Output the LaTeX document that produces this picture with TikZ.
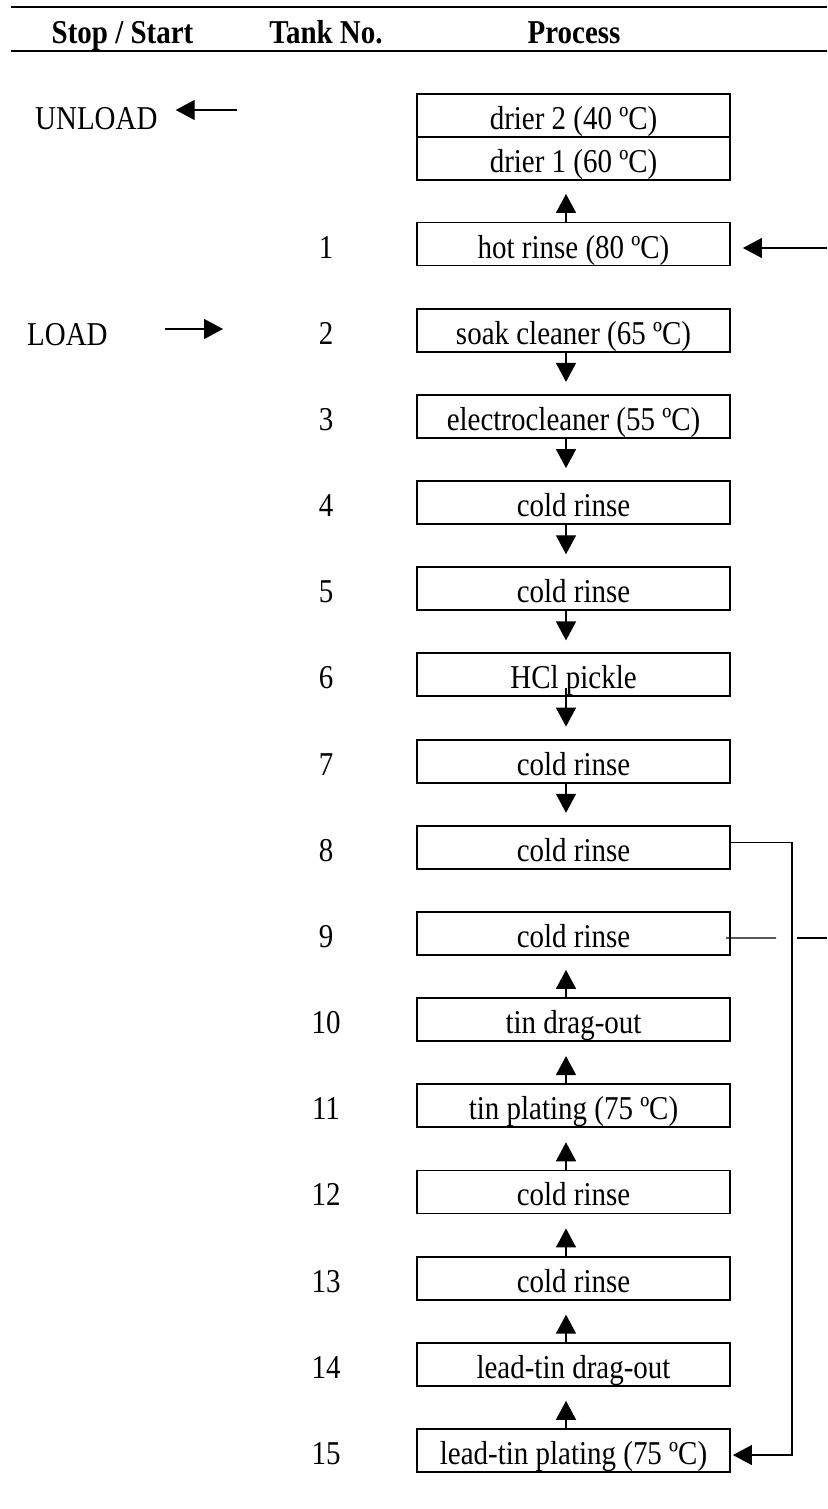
\documentclass[tikz,border=0pt]{standalone}
\usepackage{fontspec}
\setmainfont{Liberation Serif}[FakeStretch=0.87]
\usetikzlibrary{arrows.meta,calc}
\begin{document}
\begin{tikzpicture}[x=1pt,y=-1pt,
 box/.style={draw,line width=1.9pt,minimum width=313pt,minimum height=43pt,inner sep=0pt,text height=28pt,text depth=0pt,font=\fontsize{33.3}{38}\selectfont},
 lbl/.style={inner sep=0pt,font=\fontsize{33.3}{38}\selectfont},
 hdr/.style={anchor=base,inner sep=0pt,font=\fontsize{33.3}{38}\selectfont\bfseries},
 rulel/.style={line width=2pt},
 conn/.style={line width=1.4pt},
 arr/.style={conn,-{Triangle[length=19pt,width=20pt]}},
]
\path[use as bounding box] (0,0) rectangle (827,1509);
\fill[white] (0,0) rectangle (827,1509);
% header
\draw[rulel] (11,7) -- (827,7);
\draw[rulel] (11,51) -- (827,51);
\node[hdr] (hss) at (122.5,44) {Stop / Start};
\node[hdr] (htn) at (326,44) {Tank No.};
\node[hdr] (hpr) at (574,44) {Process};
% boxes
\node[box] (d2) at (573.5,115.5) {drier 2 (40 ºC)};
\node[box] (d1) at (573.5,158.5) {drier 1 (60 ºC)};
\foreach \n/\t in {1/hot rinse (80 ºC),2/soak cleaner (65 ºC),3/electrocleaner (55 ºC),4/cold rinse,5/cold rinse,6/HCl pickle,7/cold rinse,8/cold rinse,9/cold rinse,10/tin drag-out,11/tin plating (75 ºC),12/cold rinse,13/cold rinse,14/lead-tin drag-out,15/lead-tin plating (75 ºC)}{
  \node[box] (t\n) at (573.5,{244+(\n-1)*86.18}) {\t};
  \node[lbl,anchor=base] (n\n) at (326,{258+(\n-1)*86.18}) {\n};
}
% stop / start
\node[lbl,anchor=base west] (unl) at (35,130) {UNLOAD};
\coordinate (unlt) at (237,110);
\draw[arr] (unlt) -- ([xshift=18pt,yshift=20pt]unl.base east);
\node[lbl,anchor=base west] (ld) at (27,345) {LOAD};
\coordinate (ldt) at (165,329);
\coordinate (ldh) at (223,329);
\draw[arr] (ldt) -- (ldh);
% up arrow hot rinse -> drier
\draw[arr] ([xshift=-7.5pt]t1.north) -- ([xshift=-7.5pt,yshift=-13pt]d1.south);
% down arrows
\foreach \a/\b in {2/3,3/4,4/5,5/6,7/8}{
  \draw[arr] ([xshift=-7.5pt]t\a.south) -- ([xshift=-7.5pt,yshift=12pt]t\b.north);
}
\draw[arr] ([xshift=-7.5pt,yshift=9pt]t6.south) -- ([xshift=-7.5pt,yshift=12pt]t7.north);
% up arrows
\foreach \a/\b in {10/9,11/10,12/11,13/12,14/13,15/14}{
  \draw[arr] ([xshift=-7.5pt]t\a.north) -- ([xshift=-7.5pt,yshift=-14pt]t\b.south);
}
% inflow at hot rinse
\coordinate (in1) at (827,248);
\draw[arr] (in1) -- ([xshift=12pt,yshift=-4pt]t1.east);
% loop from 8 to 15
\draw[arr] ([yshift=4.5pt]t8.east) -- ++(61,0) |- ([xshift=2pt,yshift=-4.5pt]t15.east);
% line at 9 with jump
\coordinate (in9) at (827,938);
\draw[conn] (in9) -- (797,938);
\draw[conn] (776,938) -- ([xshift=-5pt,yshift=-4.5pt]t9.east);
\end{tikzpicture}
\end{document}
